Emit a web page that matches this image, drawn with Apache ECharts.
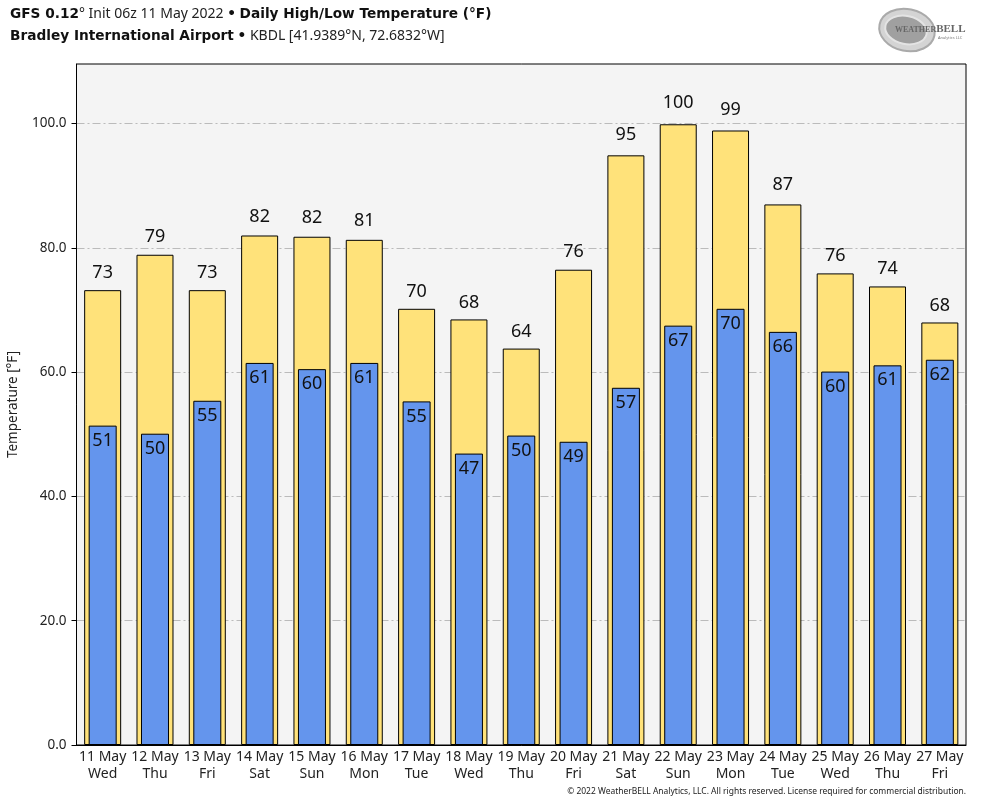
<!DOCTYPE html>
<html>
<head>
<meta charset="utf-8">
<title>Daily High/Low Temperature</title>
<script src="https://cdn.jsdelivr.net/npm/echarts@6/dist/echarts.min.js"></script>
<style>
html, body { margin: 0; padding: 0; background: #fff; }
#chart { width: 984px; height: 808px; }
</style>
</head>
<body>
<div id="chart"></div>
<script>
var dates = ['11 May', '12 May', '13 May', '14 May', '15 May', '16 May', '17 May', '18 May', '19 May',
    '20 May', '21 May', '22 May', '23 May', '24 May', '25 May', '26 May', '27 May'];
var days = ['Wed', 'Thu', 'Fri', 'Sat', 'Sun', 'Mon', 'Tue', 'Wed', 'Thu',
    'Fri', 'Sat', 'Sun', 'Mon', 'Tue', 'Wed', 'Thu', 'Fri'];
var highs = [73.2, 78.9, 73.2, 82.0, 81.8, 81.3, 70.2, 68.49, 63.8, 76.49, 94.9, 99.9, 98.9, 87.0, 75.9, 73.8, 68.0];
var lows = [51.4, 50.1, 55.4, 61.49, 60.49, 61.49, 55.3, 46.9, 49.8, 48.8, 57.49, 67.49, 70.2, 66.49, 60.1, 61.1, 62.0];
var yTicks = [0, 20, 40, 60, 80, 100];

var FONT = '"Noto Sans", sans-serif';
var BOLD = '"DejaVu Sans", sans-serif';
var categories = dates.map((d, i) => d + '\n' + days[i]);

var chart = echarts.init(document.getElementById('chart'), null, { renderer: 'canvas' });

var titleRich = {
    b: { fontFamily: BOLD, fontWeight: 'bold', fontSize: 13.7, color: '#111' },
    n: { fontFamily: FONT, fontWeight: 'normal', fontSize: 14, color: '#222' }
};

// the high labels sit a little further off the taller bars
function highLabelGap(v) {
    return 8 + (v - 68) * 0.125;
}

chart.setOption({
    animation: false,
    backgroundColor: '#fff',
    textStyle: { fontFamily: FONT },
    title: [{
        left: 10, top: 7, padding: 0,
        text: '{b|GFS 0.12}{n|° Init 06z 11 May 2022 }{b|•}{n| }{b|Daily High/Low Temperature (°F)}',
        textStyle: { fontWeight: 'normal', rich: titleRich }
    }, {
        left: 10, top: 29, padding: 0,
        text: '{b|Bradley International Airport}{n| }{b|•}{n| KBDL [41.9389°N, 72.6832°W]}',
        textStyle: { fontWeight: 'normal', rich: titleRich }
    }],
    grid: {
        left: 76.5, right: 18, top: 64, bottom: 63,
        outerBoundsMode: 'none',
        show: true, backgroundColor: '#f4f4f4', borderColor: '#000', borderWidth: 1
    },
    xAxis: [{
        type: 'category',
        data: categories,
        axisTick: { show: false },
        axisLine: { lineStyle: { color: '#000', width: 1 } },
        axisLabel: { color: '#222', fontSize: 14, lineHeight: 17, margin: 4, interval: 0 }
    }, {
        type: 'category',
        data: categories,
        show: false
    }],
    yAxis: {
        type: 'value',
        min: 0,
        max: 109.6,
        interval: 20,
        name: 'Temperature [°F]',
        nameLocation: 'middle',
        nameGap: 56,
        nameTextStyle: { color: '#222', fontSize: 13.5 },
        axisLine: { show: true, lineStyle: { color: '#000' } },
        axisTick: { show: true, length: 5, lineStyle: { color: '#000' }, customValues: yTicks },
        axisLabel: { color: '#222', fontSize: 13.5, margin: 10, customValues: yTicks, formatter: v => v.toFixed(1) },
        splitLine: { show: true, showMinLine: false, showMaxLine: true, lineStyle: { color: '#bbb', width: 1, type: [8, 3, 2, 3] } }
    },
    series: [{
        name: 'High',
        type: 'bar',
        xAxisIndex: 0,
        data: highs.map(v => ({ value: v, label: { distance: highLabelGap(v) } })),
        barWidth: 37,
        itemStyle: { color: '#ffe27a', borderColor: '#000', borderWidth: 1 },
        label: {
            show: true, position: 'top', fontSize: 18, color: '#111',
            formatter: p => Math.round(p.value)
        }
    }, {
        name: 'Low',
        type: 'bar',
        xAxisIndex: 1,
        data: lows,
        barWidth: 28,
        z: 3,
        itemStyle: { color: '#6495ed', borderColor: '#000', borderWidth: 1 },
        label: {
            show: true, position: 'insideTop', distance: 6, fontSize: 18, color: '#111',
            formatter: p => Math.round(p.value)
        }
    }],
    graphic: [
        // logo, rough swirl
        { type: 'ellipse', x: 907, y: 30, rotation: -0.2, shape: { cx: 0, cy: 0, rx: 28, ry: 21 }, style: { fill: '#d4d4d4', stroke: '#aaa', lineWidth: 2 } },
        { type: 'ellipse', x: 906, y: 30, rotation: -0.2, shape: { cx: 0, cy: 0, rx: 21, ry: 14 }, style: { fill: '#a0a0a0', stroke: '#e4e4e4', lineWidth: 2 } },
        {
            type: 'text', x: 895, y: 24,
            style: {
                text: '{s|WEATHER}{l|BELL}',
                rich: {
                    s: { fontFamily: '"Liberation Serif", serif', fontSize: 8, fontWeight: 'bold', fill: '#666' },
                    l: { fontFamily: '"Liberation Serif", serif', fontSize: 11, fontWeight: 'bold', fill: '#666' }
                }
            }
        },
        { type: 'text', x: 938, y: 36, style: { text: 'Analytics LLC', fontFamily: FONT, fontSize: 4, fill: '#777' } },
        // footer
        { type: 'text', right: 18, top: 788, style: { text: '© 2022 WeatherBELL Analytics, LLC. All rights reserved. License required for commercial distribution.', fontFamily: FONT, fontSize: 8.46, fill: '#222' } }
    ]
});
</script>
</body>
</html>
